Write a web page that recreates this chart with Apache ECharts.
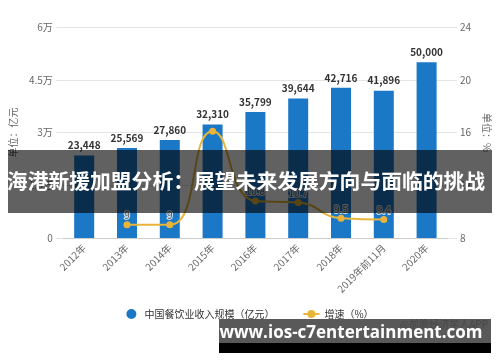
<!DOCTYPE html>
<html><head><meta charset="utf-8">
<script src="https://cdn.jsdelivr.net/npm/echarts@6/dist/echarts.min.js"></script>
<style>html,body{margin:0;padding:0;background:#fff}#c{width:500px;height:362px}</style>
</head><body><div id="c"></div>
<script>
const categories = ['2012年','2013年','2014年','2015年','2016年','2017年','2018年','2019年前11月','2020年'];
const revenue = [23448, 25569, 27860, 32310, 35799, 39644, 42716, 41896, 50000];
const growth = [null, 9, 9, 16.1, 10.8, 10.7, 9.5, 9.4, null];
const leftTicks = ['0','1.5万','3万','4.5万','6万'];
const rightTicks = ['8','12','16','20','24'];
const bannerText = '海港新援加盟分析：展望未来发展方向与面临的挑战';
const footerText = 'www.ios-c7entertainment.com';

const font = '"Noto Sans CJK SC", "Noto Sans", sans-serif';
const chart = echarts.init(document.getElementById('c'));
chart.setOption({
  animation: false,
  textStyle: { fontFamily: font },
  grid: { left: 60, right: 46, top: 27, bottom: 124 },
  legend: {
    bottom: 38, left: 'center', itemGap: 28, itemWidth: 16, itemHeight: 10,
    textStyle: { fontSize: 10, color: '#333', fontFamily: font },
    data: [{ name: '中国餐饮业收入规模（亿元）', icon: 'circle' }, { name: '增速（%）' }]
  },
  xAxis: {
    type: 'category', data: categories,
    axisLine: { lineStyle: { color: '#ccc' } },
    axisTick: { alignWithLabel: true, lineStyle: { color: '#ccc' } },
    axisLabel: { rotate: 45, fontSize: 10, color: '#666', margin: 8 }
  },
  yAxis: [{
    type: 'value', min: 0, max: 60000, interval: 15000,
    name: '单位：亿元', nameLocation: 'middle', nameGap: 40, nameRotate: 90,
    nameTextStyle: { fontSize: 10, color: '#666' },
    axisLine: { show: false },
    axisTick: { show: true, length: 7, lineStyle: { color: '#e4e4e4' } },
    splitLine: { lineStyle: { color: '#e4e4e4' } },
    axisLabel: { fontSize: 10, color: '#666', margin: 10,
      formatter: (v) => leftTicks[Math.round(v / 15000)] }
  }, {
    type: 'value', min: 8, max: 24, interval: 4,
    name: '单位：%', nameLocation: 'middle', nameGap: 32, nameRotate: -90,
    nameTextStyle: { fontSize: 10, color: '#666' },
    axisLine: { show: false },
    axisTick: { show: true, length: 9, lineStyle: { color: '#e4e4e4' } },
    splitLine: { show: false },
    axisLabel: { fontSize: 10, color: '#666', margin: 12,
      formatter: (v) => rightTicks[Math.round((v - 8) / 4)] }
  }],
  series: [{
    name: '中国餐饮业收入规模（亿元）', type: 'bar', data: revenue, barWidth: 20,
    itemStyle: { color: '#1a78c6' },
    label: { show: true, position: 'top', fontSize: 10, fontWeight: 'bold', color: '#333',
      formatter: (p) => p.value.toLocaleString('en-US') }
  }, {
    name: '增速（%）', type: 'line', yAxisIndex: 1, smooth: true,
    data: growth.map((v, i) => i === 3 ? { value: v, label: { show: false } } : v),
    symbol: 'circle', symbolSize: 7,
    lineStyle: { color: '#e8b53a', width: 2 },
    itemStyle: { color: '#e8b53a' },
    label: { show: true, position: 'top', fontSize: 10, color: '#555', distance: 1,
      textBorderColor: 'rgba(255,255,255,0.8)', textBorderWidth: 2 }
  }],
  graphic: [
    { type: 'rect', shape: { x: 8, y: 150, width: 484, height: 63 }, style: { fill: 'rgba(0,0,0,0.62)' }, z: 100 },
    { type: 'text', x: 246, y: 181.5, style: { text: bannerText, fill: '#fff', fontSize: 20.8, fontWeight: 'bold', fontFamily: font, align: 'center', verticalAlign: 'middle' }, z: 101 },
    { type: 'text', x: 488, y: 324, style: { text: '@前瞻经济学人APP', fill: '#888', fontSize: 10, fontFamily: font, align: 'right', verticalAlign: 'middle' }, z: 99 },
    { type: 'rect', shape: { x: 219, y: 319, width: 272, height: 24 }, style: { fill: 'rgba(60,60,60,0.85)' }, z: 100 },
    { type: 'rect', shape: { x: 219, y: 343, width: 272, height: 10 }, style: { fill: '#000' }, z: 100 },
    { type: 'text', x: 351, y: 333, style: { text: footerText, fill: '#fff', fontSize: 17, fontWeight: 'bold', fontFamily: '"Open Sans", "DejaVu Sans", sans-serif', align: 'center', verticalAlign: 'middle' }, z: 101 }
  ]
});
</script></body></html>
